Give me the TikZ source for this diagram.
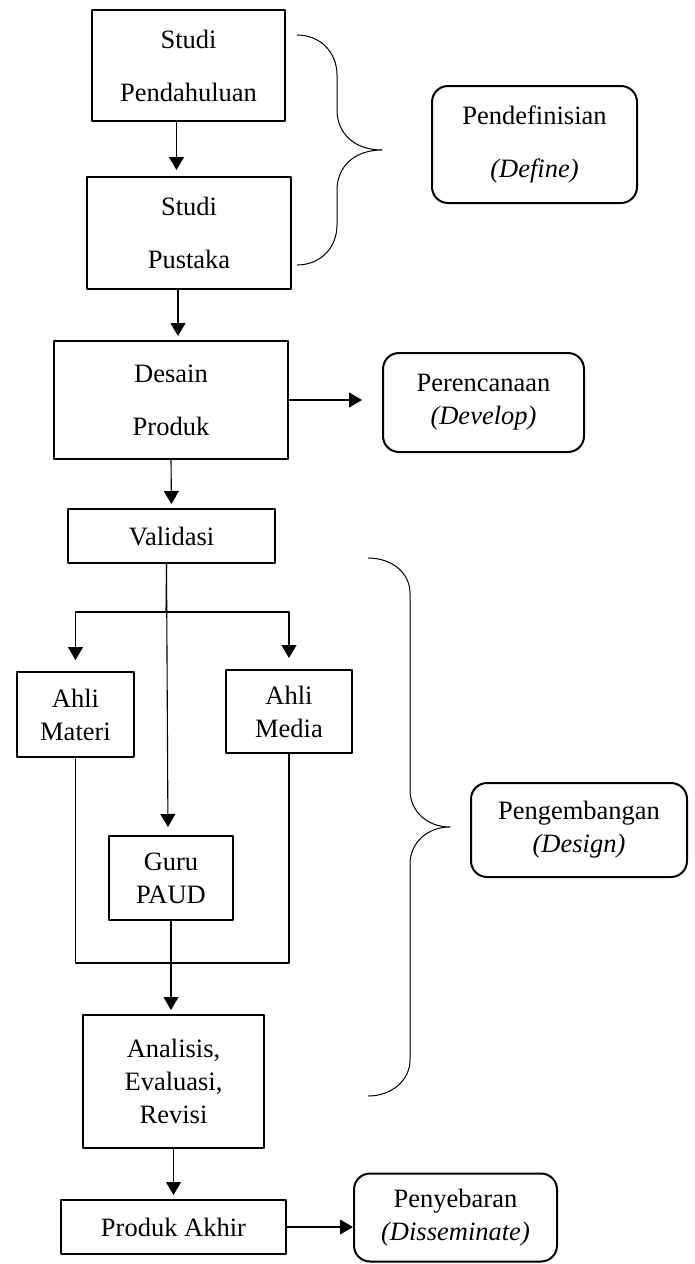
\documentclass[tikz,border=0pt]{standalone}
\usepackage{fontspec}
\setmainfont{Liberation Serif}
\usetikzlibrary{arrows.meta}
\tikzset{
	kotak/.style={draw, line width=2pt, align=center, inner sep=0pt},
	bulat/.style={kotak, rounded corners=16pt},
	renggang/.style={font=\fontsize{26.5}{53}\selectfont},
	panah/.style={->, line width=1.1pt, shorten >=4pt},
	garis/.style={line width=1.1pt},
	kurung/.style={line width=1pt}
}
\begin{document}
\begin{tikzpicture}[x=1pt, y=-1pt, font=\fontsize{26.5}{33}\selectfont, line join=round, >={Triangle[length=13pt,width=15pt]}]
	\useasboundingbox (0,0) rectangle (694,1264);
	% alur utama
	\node[kotak,renggang,minimum width=193pt,minimum height=111pt] (pend) at (188.5,65.5) {Studi\\Pendahuluan};
	\node[kotak,renggang,minimum width=204pt,minimum height=112pt] (pust) at (189,233) {Studi\\Pustaka};
	\node[kotak,renggang,minimum width=234pt,minimum height=118pt] (desain) at (171,400) {Desain\\Produk};
	\node[kotak,minimum width=207pt,minimum height=54pt] (valid) at (171.5,536) {Validasi};
	\node[kotak,minimum width=117pt,minimum height=85pt] (materi) at (75.5,714.5) {Ahli\\Materi};
	\node[kotak,minimum width=126pt,minimum height=83pt] (media) at (289,711.5) {Ahli\\Media};
	\node[kotak,minimum width=124pt,minimum height=84pt] (guru) at (171,878) {Guru\\PAUD};
	\node[kotak,minimum width=181pt,minimum height=133pt] (anal) at (173.5,1081.5) {Analisis,\\Evaluasi,\\Revisi};
	\node[kotak,minimum width=225pt,minimum height=54pt] (akhir) at (173.5,1227) {Produk Akhir};
	% tahap
	\node[bulat,renggang,minimum width=205pt,minimum height=117pt] (define) at (534.5,144.5) {Pendefinisian\\\textit{(Define)}};
	\node[bulat,minimum width=201pt,minimum height=99pt] (develop) at (483.5,402.5) {Perencanaan\\\textit{(Develop)}};
	\node[bulat,minimum width=216pt,minimum height=94pt] (design) at (579,830) {Pengembangan\\\textit{(Design)}};
	\node[bulat,minimum width=203pt,minimum height=88pt] (sebar) at (455.5,1217.5) {Penyebaran\\\textit{(Disseminate)}};
	% panah
	\draw[panah,shorten >=6pt] ([xshift=-12pt]pend.south) -- ([xshift=-12pt]pend.south |- pust.north);
	\draw[panah] ([xshift=-11pt]pust.south) -- ([xshift=-11pt]pust.south |- desain.north);
	\draw[panah] (desain.south) -- (valid.north);
	\draw[panah,shorten >=20pt] (desain.east) -- (desain.east -| develop.west);
	\coordinate (vs) at ([xshift=-5pt]valid.south);
	\coordinate (split) at (166,612);
	\coordinate (gabung) at (171,963);
	\draw[garis] (vs) -- (split);
	\draw[panah,<->,shorten <=11pt,shorten >=11pt] (materi.north) -- (materi.north |- split) -- (media.north |- split) -- (media.north);
	\draw[panah,shorten >=8pt] (vs) -- ([xshift=-3pt]guru.north);
	\draw[garis] (materi.south) -- (materi.south |- gabung) -- (media.south |- gabung) -- (media.south);
	\draw[panah] (guru.south) -- (guru.south |- anal.north);
	\draw[panah] (anal.south) -- (akhir.north);
	\draw[panah,shorten >=0pt] (akhir.east) -- (akhir.east -| sebar.west);
	% kurung kurawal
	\draw[kurung] (297,35) .. controls (320,35) and (337,52) .. (337,75) -- (337,110)
		.. controls (337,133) and (354,150) .. (382,150)
		.. controls (354,150) and (337,167) .. (337,190) -- (337,225)
		.. controls (337,248) and (320,265) .. (297,265);
	\draw[kurung] (368,558) .. controls (392,558) and (410,573) .. (410,593) -- (410,790)
		.. controls (410,811) and (427,827) .. (450,827)
		.. controls (427,827) and (410,843) .. (410,864) -- (410,1060)
		.. controls (410,1080) and (392,1096) .. (368,1096);
\end{tikzpicture}
\end{document}
